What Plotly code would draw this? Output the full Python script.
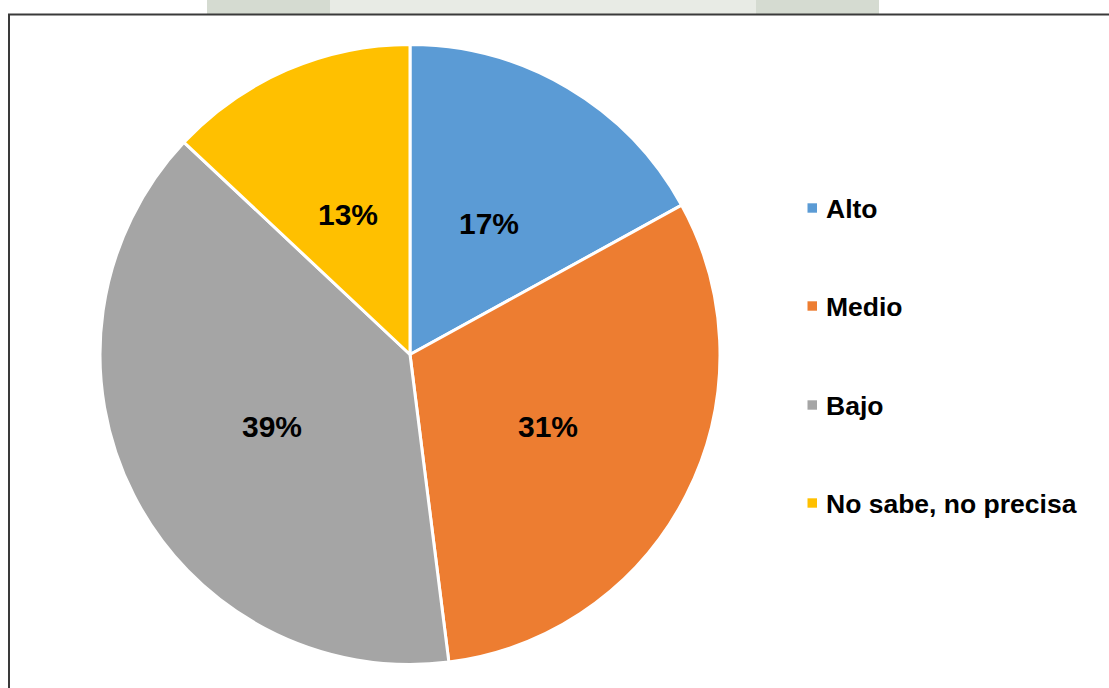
import math
import plotly.graph_objects as go

# Survey result shares (%)
categories = ["Alto", "Medio", "Bajo", "No sabe, no precisa"]
shares = [17, 31, 39, 13]
colors = ["#5B9BD5", "#ED7D31", "#A5A5A5", "#FFC000"]

W, H = 1109, 688
cx, cy, r = 410, 354.5, 310
FONT = "Liberation Sans, Arial, sans-serif"

fig = go.Figure()
fig.add_trace(go.Pie(
    labels=categories,
    values=shares,
    sort=False,
    direction="clockwise",
    rotation=0,
    marker=dict(colors=colors, line=dict(color="white", width=3)),
    textinfo="none",
    showlegend=False,
    domain=dict(x=[(cx - r) / W, (cx + r) / W], y=[(H - cy - r) / H, (H - cy + r) / H]),
))

shapes = []
annotations = []

# percentage labels at half radius along each slice's mid angle
total = sum(shares)
cum = 0
for v in shares:
    mid = (cum + v / 2) / total * 2 * math.pi
    cum += v
    lx = cx + 0.5 * r * math.sin(mid)
    ly = cy - 0.5 * r * math.cos(mid) + 2
    annotations.append(dict(xref="paper", yref="paper", x=lx / W, y=1 - ly / H,
                            xanchor="center", yanchor="middle", showarrow=False,
                            text="<b>%d%%</b>" % v,
                            font=dict(family=FONT, size=30, color="#000000")))

# faint band above the frame
for x0, x1, c in [(207, 330, "#d5dbd1"), (330, 756, "#e8ebe5"), (756, 879, "#d5dbd1")]:
    shapes.append(dict(type="rect", xref="paper", yref="paper",
                       x0=x0 / W, x1=x1 / W, y0=1 - 14 / H, y1=1,
                       fillcolor=c, line=dict(width=0), layer="below"))

# chart frame
shapes.append(dict(type="rect", xref="paper", yref="paper",
                   x0=9 / W, x1=1.02, y0=-0.02, y1=1 - 14.5 / H,
                   fillcolor="rgba(0,0,0,0)", line=dict(color="#3a3a3a", width=2)))

# legend
legend_y = [208, 306, 405, 503]
for name, col, ly in zip(categories, colors, legend_y):
    shapes.append(dict(type="rect", xref="paper", yref="paper",
                       x0=807.5 / W, x1=817 / W,
                       y0=1 - (ly + 4.7) / H, y1=1 - (ly - 4.7) / H,
                       fillcolor=col, line=dict(width=0)))
    annotations.append(dict(xref="paper", yref="paper", x=824 / W, y=1 - (ly + 1) / H,
                            xanchor="left", yanchor="middle", showarrow=False,
                            text="<b>%s</b>" % name,
                            font=dict(family=FONT, size=26.5, color="#000000")))

fig.update_layout(
    width=W, height=H,
    margin=dict(l=0, r=0, t=0, b=0),
    paper_bgcolor="white",
    plot_bgcolor="white",
    shapes=shapes,
    annotations=annotations,
)

fig.write_html("out.html")
